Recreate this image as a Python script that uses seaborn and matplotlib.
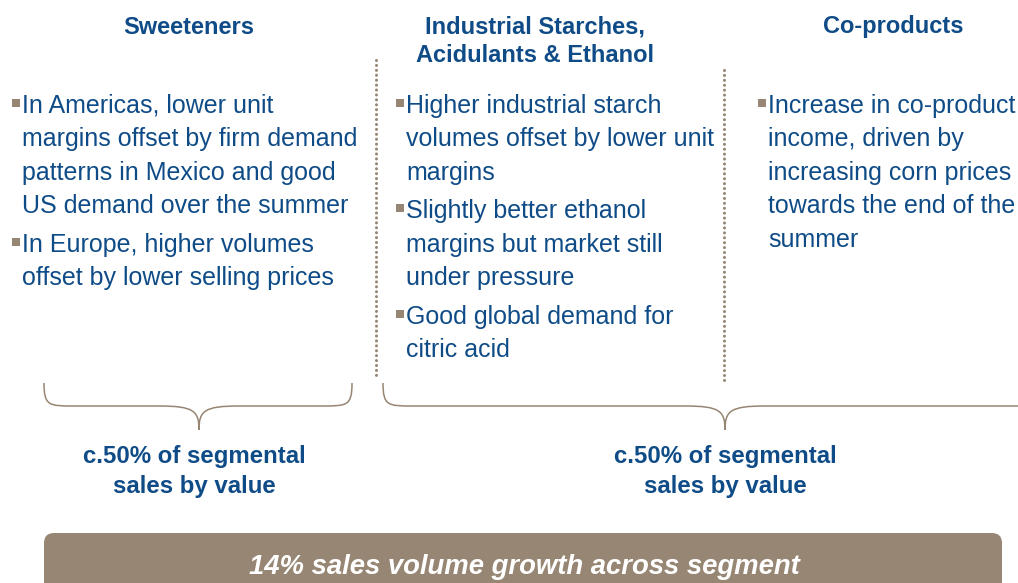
#!/usr/bin/env python3
"""Slide: segment drivers (Sweeteners / Industrial / Co-products)."""

import matplotlib.pyplot as plt
import seaborn as sns
from matplotlib.patches import FancyBboxPatch, PathPatch
from matplotlib.path import Path

BLUE = "#0f4c87"
BROWN = "#968673"

headers = [["Sweeteners"], ["Industrial Starches,", "Acidulants & Ethanol"], ["Co-products"]]
header_x = [189, 535, 893]

sweeteners = [
    ["In Americas, lower unit", "margins offset by firm demand",
     "patterns in Mexico and good", "US demand over the summer"],
    ["In Europe, higher volumes", "offset by lower selling prices"],
]
industrial = [
    ["Higher industrial starch", "volumes offset by lower unit", "margins"],
    ["Slightly better ethanol", "margins but market still", "under pressure"],
    ["Good global demand for", "citric acid"],
]
coproducts = [
    ["Increase in co-product", "income, driven by", "increasing corn prices",
     "towards the end of the", "summer"],
]
columns = [sweeteners, industrial, coproducts]
text_x = [22, 406, 768]

share_labels = [["c.50% of segmental", "sales by value"],
                ["c.50% of segmental", "sales by value"]]
share_x = [194, 725]
footer = "14% sales volume growth across segment"


def brace(ax, x0, x1, xm, ytop=383, ymid=406, ybot=430):
    verts = [
        (x0, ytop),
        (x0, ymid), (x0 + 5, ymid), (x0 + 30, ymid),
        (xm - 40, ymid),
        (xm - 5, ymid), (xm, ymid + 5), (xm, ybot),
        (xm, ymid + 5), (xm + 5, ymid), (xm + 40, ymid),
        (x1 - 30, ymid),
        (x1 - 5, ymid), (x1, ymid), (x1, ytop),
    ]
    codes = [Path.MOVETO,
             Path.CURVE4, Path.CURVE4, Path.CURVE4,
             Path.LINETO,
             Path.CURVE4, Path.CURVE4, Path.CURVE4,
             Path.CURVE4, Path.CURVE4, Path.CURVE4,
             Path.LINETO,
             Path.CURVE4, Path.CURVE4, Path.CURVE4]
    ax.add_patch(PathPatch(Path(verts, codes), facecolor="none",
                           edgecolor=BROWN, lw=1.1))


def main() -> None:
    sns.set_theme(style="white")
    plt.rcParams["font.family"] = ["Liberation Sans", "DejaVu Sans"]

    fig = plt.figure(figsize=(10.18, 5.83), dpi=100)
    ax = fig.add_axes([0, 0, 1, 1])
    ax.set_xlim(0, 1018)
    ax.set_ylim(583, 0)
    ax.axis("off")

    for lines, x in zip(headers, header_x):
        for i, ln in enumerate(lines):
            ax.text(x, 27 + i * 29, ln, ha="center", va="center",
                    color=BLUE, fontsize=17, fontweight="bold")

    # dotted separators
    ax.plot([376, 376], [60, 375], color=BROWN, lw=2.2,
            linestyle=(0, (0.01, 1.6)), dash_capstyle="round")
    ax.plot([724, 724], [70, 383], color=BROWN, lw=2.2,
            linestyle=(0, (0.01, 1.6)), dash_capstyle="round")

    line_h = 33.4
    bullet_gap = 38.5
    for bullets, x in zip(columns, text_x):
        y = 106
        for lines in bullets:
            ax.plot(x - 5.5, y - 3, marker="s", ms=5.5, color=BROWN,
                    markeredgewidth=0)
            for i, ln in enumerate(lines):
                ax.text(x, y + i * line_h, ln, ha="left", va="center",
                        color=BLUE, fontsize=18)
            y += (len(lines) - 1) * line_h + bullet_gap

    brace(ax, 44, 352, 199)
    brace(ax, 383, 1060, 725)

    for lines, x in zip(share_labels, share_x):
        for i, ln in enumerate(lines):
            ax.text(x, 457 + i * 30, ln, ha="center", va="center",
                    color=BLUE, fontsize=17.3, fontweight="bold")

    ax.add_patch(FancyBboxPatch((44, 533), 958, 80,
                                boxstyle="round,pad=0,rounding_size=10",
                                facecolor=BROWN, edgecolor="none"))
    ax.text(524, 567, footer, ha="center", va="center", color="white",
            fontsize=19.8, fontweight="bold", fontstyle="italic")

    fig.savefig("out.png", dpi=100)
    plt.close(fig)


if __name__ == "__main__":
    main()
